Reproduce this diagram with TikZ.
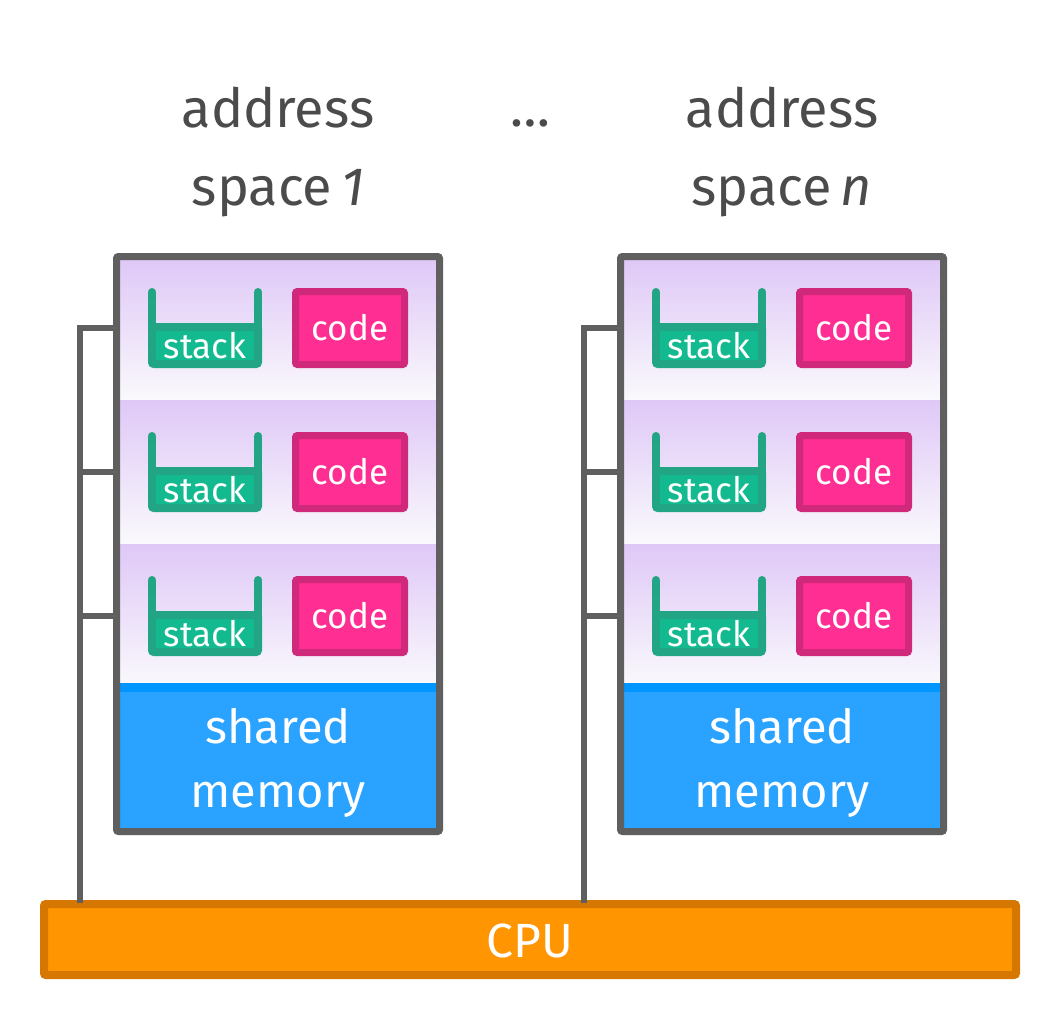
\documentclass[tikz,border=0pt]{standalone}
\usepackage{fontspec}
\setmainfont{Fira Sans}
\definecolor{framegray}{HTML}{5F5F5F}
\definecolor{titlegray}{HTML}{4B4B4B}
\definecolor{rowtop}{HTML}{DFC8F7}
\definecolor{rowbot}{HTML}{FAF9FC}
\definecolor{stackline}{HTML}{21A585}
\definecolor{stackfill}{HTML}{13BA90}
\definecolor{codeline}{HTML}{D0287A}
\definecolor{codefill}{HTML}{FF2E93}
\definecolor{sharedline}{HTML}{0095FF}
\definecolor{sharedfill}{HTML}{2AA2FF}
\definecolor{cpufill}{HTML}{FF9500}
\definecolor{cpuline}{HTML}{D57700}
\tikzset{
  title/.style={text=titlegray, font=\fontsize{54}{64}\selectfont, anchor=base, inner sep=0pt},
  rowbox/.style={top color=rowtop, bottom color=rowbot, draw=none, inner sep=0pt, minimum width=316, outer sep=0pt},
  frame/.style={draw=framegray, line width=7pt, rounded corners=2pt, inner sep=0pt, minimum width=323, minimum height=575},
  stackbase/.style={draw=stackline, fill=stackfill, line width=8pt, rounded corners=2pt, inner sep=0pt, minimum width=106, minimum height=37},
  stackwall/.style={draw=stackline, line width=8pt, line cap=round},
  codebox/.style={draw=codeline, fill=codefill, line width=7pt, rounded corners=2pt, inner sep=0pt, minimum width=109, minimum height=73},
  small/.style={text=white, font=\fontsize{35}{42}\selectfont, anchor=base, inner sep=0pt},
  big/.style={text=white, font=\fontsize{47}{56}\selectfont, anchor=base, inner sep=0pt},
  bus/.style={draw=framegray, line width=6pt},
  cpubox/.style={draw=cpuline, fill=cpufill, line width=8pt, rounded corners=2pt, inner sep=0pt, minimum width=972, minimum height=71}
}
\begin{document}
\begin{tikzpicture}[x=1pt,y=-1pt]
\useasboundingbox[fill=white] (0,0) rectangle (1060,1020);

% CPU
\node[cpubox] (cpu) at (530,939.5) {};
\node[text=white, font=\fontsize{48}{56}\selectfont, anchor=base, inner sep=0pt] (cpulabel) at (530,957) {CPU};

% dots
\node[title] (dots) at (530,126) {\dots};

\foreach \i/\ox/\nm in {1/0/1, 2/504/n} {
  \node[title] (t\i a) at (\ox+278,127) {address};
  \node[title] (t\i b) at (\ox+278,205) {space\,\textit{\nm}};
  % rows
  \node[rowbox, minimum height=140] (row\i-0) at (\ox+278,330) {};
  \node[rowbox, minimum height=144] (row\i-1) at (\ox+278,472) {};
  \node[rowbox, minimum height=142] (row\i-2) at (\ox+278,615) {};
  \node[fill=sharedfill, inner sep=0pt, minimum width=316, minimum height=142] (sh\i) at (\ox+278,757) {};
  \node[fill=sharedline, inner sep=0pt, minimum width=316, minimum height=9] (shl\i) at (\ox+278,687.5) {};
  \node[big] (shtxt\i a) at (\ox+278,743) {shared};
  \node[big] (shtxt\i b) at (\ox+278,807) {memory};
  \foreach \j in {0,1,2} {
    \node[stackbase] (stack\i-\j) at (\ox+205,345.5+144*\j) {};
    \draw[stackwall] (\ox+152,292+144*\j) -- (\ox+152,330+144*\j);
    \draw[stackwall] (\ox+258,292+144*\j) -- (\ox+258,330+144*\j);
    \node[small] (stxt\i-\j) at (\ox+205,358+144*\j) {stack};
    \node[codebox] (code\i-\j) at (\ox+350,328+144*\j) {};
    \node[small] (ctxt\i-\j) at (\ox+350,340+144*\j) {code};
    \coordinate (tap\i-\j) at (\ox+80,328+144*\j);
  }
  \node[frame] (frame\i) at (\ox+278,544) {};
  % bus
  \draw[bus] ([xshift=4]tap\i-0 -| frame\i.west) -- (tap\i-0) -- ([yshift=-3]tap\i-0 |- cpu.north);
  \draw[bus] (tap\i-1) -- ([xshift=4]tap\i-1 -| frame\i.west);
  \draw[bus] (tap\i-2) -- ([xshift=4]tap\i-2 -| frame\i.west);
}
\end{tikzpicture}
\end{document}
